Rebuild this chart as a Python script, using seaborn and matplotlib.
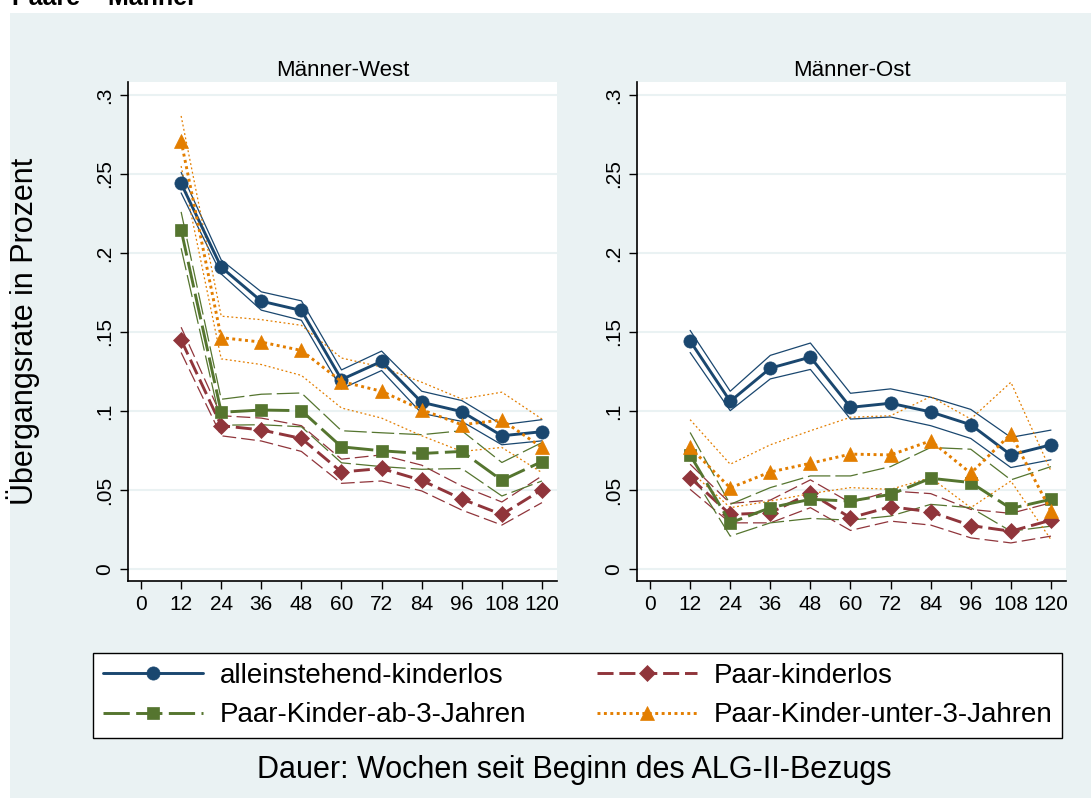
import pandas as pd
import seaborn as sns
import matplotlib.pyplot as plt
from matplotlib.patches import Rectangle

weeks = [12, 24, 36, 48, 60, 72, 84, 96, 108, 120]
groups = ['alleinstehend-kinderlos', 'Paar-kinderlos',
          'Paar-Kinder-ab-3-Jahren', 'Paar-Kinder-unter-3-Jahren']

# Männer-West: estimate, lower and upper bound
west_allein = [0.244, 0.191, 0.1695, 0.1636, 0.1199, 0.1314, 0.1055, 0.0996, 0.0843, 0.0869]
west_allein_lo = [0.238, 0.1867, 0.1638, 0.1574, 0.114, 0.1256, 0.0985, 0.0934, 0.0786, 0.0811]
west_allein_hi = [0.251, 0.1956, 0.1754, 0.1697, 0.126, 0.1379, 0.1125, 0.1066, 0.0913, 0.0945]

west_paar = [0.145, 0.0907, 0.088, 0.0826, 0.0614, 0.0636, 0.0561, 0.0443, 0.0345, 0.0502]
west_paar_lo = [0.137, 0.0843, 0.081, 0.0744, 0.0542, 0.0557, 0.0494, 0.0373, 0.0278, 0.042]
west_paar_hi = [0.153, 0.097, 0.0955, 0.0907, 0.0695, 0.0722, 0.0657, 0.0525, 0.0424, 0.0589]

west_ab3 = [0.2146, 0.0992, 0.1006, 0.1002, 0.0773, 0.0748, 0.0731, 0.0744, 0.0561, 0.068]
west_ab3_lo = [0.203, 0.091, 0.0913, 0.090, 0.0672, 0.0648, 0.0631, 0.0636, 0.0462, 0.0557]
west_ab3_hi = [0.226, 0.1074, 0.1106, 0.1114, 0.0875, 0.0862, 0.085, 0.0875, 0.0674, 0.080]

west_unter3 = [0.2708, 0.1464, 0.1436, 0.1383, 0.1186, 0.1125, 0.1008, 0.0913, 0.0943, 0.0769]
west_unter3_lo = [0.255, 0.133, 0.1294, 0.1225, 0.1019, 0.0955, 0.0843, 0.0744, 0.0769, 0.061]
west_unter3_hi = [0.2867, 0.160, 0.1578, 0.1542, 0.1335, 0.1278, 0.1182, 0.1076, 0.1119, 0.0949]

# Männer-Ost
ost_allein = [0.1443, 0.1061, 0.1271, 0.1341, 0.1023, 0.1049, 0.0994, 0.0913, 0.0722, 0.0786]
ost_allein_lo = [0.137, 0.1002, 0.1203, 0.1263, 0.0949, 0.0962, 0.0907, 0.0826, 0.0642, 0.0691]
ost_allein_hi = [0.151, 0.1125, 0.1352, 0.143, 0.1112, 0.114, 0.1087, 0.101, 0.0833, 0.0879]

ost_paar = [0.0578, 0.0345, 0.0356, 0.0479, 0.0324, 0.0394, 0.0362, 0.0275, 0.0239, 0.0309]
ost_paar_lo = [0.0504, 0.0292, 0.0292, 0.0388, 0.0244, 0.0303, 0.0278, 0.0197, 0.0165, 0.0208]
ost_paar_hi = [0.0663, 0.0415, 0.0436, 0.0564, 0.0419, 0.0494, 0.0477, 0.0377, 0.0352, 0.0419]

ost_ab3 = [0.0722, 0.0292, 0.0388, 0.0441, 0.043, 0.0472, 0.0574, 0.0547, 0.0383, 0.0441]
ost_ab3_lo = [0.062, 0.0208, 0.0292, 0.032, 0.0309, 0.0335, 0.0409, 0.0388, 0.0239, 0.0271]
ost_ab3_hi = [0.0864, 0.0409, 0.0515, 0.0589, 0.0589, 0.0648, 0.0769, 0.0758, 0.0564, 0.0648]

ost_unter3 = [0.0769, 0.0513, 0.0614, 0.0669, 0.0727, 0.0722, 0.0811, 0.0606, 0.0854, 0.0367]
ost_unter3_lo = [0.062, 0.0388, 0.043, 0.0477, 0.0515, 0.0504, 0.0578, 0.0388, 0.0557, 0.0186]
ost_unter3_hi = [0.0945, 0.0663, 0.0786, 0.0875, 0.096, 0.097, 0.1091, 0.0949, 0.1182, 0.062]

yticks = [0, 0.05, 0.1, 0.15, 0.2, 0.25, 0.3]
ytick_labels = ['0', '.05', '.1', '.15', '.2', '.25', '.3']
xticks = [0, 12, 24, 36, 48, 60, 72, 84, 96, 108, 120]

rows = []
for region, series in [
    ('Männer-West', [(west_allein, west_allein_lo, west_allein_hi),
                     (west_paar, west_paar_lo, west_paar_hi),
                     (west_ab3, west_ab3_lo, west_ab3_hi),
                     (west_unter3, west_unter3_lo, west_unter3_hi)]),
    ('Männer-Ost', [(ost_allein, ost_allein_lo, ost_allein_hi),
                    (ost_paar, ost_paar_lo, ost_paar_hi),
                    (ost_ab3, ost_ab3_lo, ost_ab3_hi),
                    (ost_unter3, ost_unter3_lo, ost_unter3_hi)])]:
    for g, (est, lo, hi) in zip(groups, series):
        for w, e, l, h in zip(weeks, est, lo, hi):
            rows.append({'region': region, 'group': g, 'week': w, 'rate': e, 'lo': l, 'hi': h})
df = pd.DataFrame(rows)

styles = {
    'alleinstehend-kinderlos': dict(color='#1A476F', marker='o', ms=9.5, dash=None, cidash=None),
    'Paar-kinderlos': dict(color='#90353B', marker='D', ms=8, dash=(5.5, 2), cidash=(11, 4)),
    'Paar-Kinder-ab-3-Jahren': dict(color='#55752F', marker='s', ms=8.5, dash=(9, 2.2), cidash=(18, 4)),
    'Paar-Kinder-unter-3-Jahren': dict(color='#E37E00', marker='^', ms=9.5, dash=(1, 1.2), cidash=(1.5, 2)),
}

sns.set_theme(style='white')
plt.rcParams['font.family'] = ['Liberation Sans', 'DejaVu Sans']
plt.rcParams['text.color'] = 'black'
plt.rcParams['axes.labelcolor'] = 'black'
plt.rcParams['xtick.color'] = 'black'
plt.rcParams['ytick.color'] = 'black'
bg = '#EAF2F3'

fig = plt.figure(figsize=(10.91, 7.98), dpi=100)
fig.patch.set_facecolor('white')
fig.patches.append(Rectangle((10 / 1091, 0), 1 - 10 / 1091, 785 / 798, transform=fig.transFigure,
                             facecolor=bg, edgecolor='none', zorder=-10))
# the page title is cut off at the top edge in the original as well
fig.text(12 / 1091, 1 - 5 / 798, 'Paare \u2013 Männer', fontsize=18, fontweight='bold', va='baseline')

ax_w = fig.add_axes([128 / 1091, 1 - 581 / 798, 429 / 1091, 499 / 798])
ax_o = fig.add_axes([637 / 1091, 1 - 581 / 798, 429 / 1091, 499 / 798])

for ax, region in [(ax_w, 'Männer-West'), (ax_o, 'Männer-Ost')]:
    ax.set_facecolor('white')
    sub = df[df['region'] == region]
    for g in groups:
        s = styles[g]
        d = sub[sub['group'] == g]
        ls = '-' if s['dash'] is None else (0, s['dash'])
        cls = '-' if s['cidash'] is None else (0, s['cidash'])
        for col in ['lo', 'hi']:
            sns.lineplot(data=d, x='week', y=col, ax=ax, color=s['color'], lw=0.9,
                         linestyle=cls, errorbar=None, zorder=2)
        sns.lineplot(data=d, x='week', y='rate', ax=ax, color=s['color'], lw=2.1,
                     linestyle=ls, marker=s['marker'], markersize=s['ms'],
                     markeredgecolor=s['color'], markeredgewidth=0.5,
                     errorbar=None, label=g, zorder=3)
    ax.set_xlim(-3.9, 124.5)
    ax.set_ylim(-0.0076, 0.3082)
    ax.set_xticks(xticks)
    ax.set_xticklabels([str(x) for x in xticks], fontsize=15)
    ax.set_yticks(yticks)
    ax.set_yticklabels(ytick_labels, fontsize=15, rotation=90, va='center')
    ax.grid(axis='y', color=bg, lw=1.5)
    ax.grid(axis='x', visible=False)
    ax.set_axisbelow(True)
    for sp in ['top', 'right']:
        ax.spines[sp].set_visible(False)
    for sp in ['left', 'bottom']:
        ax.spines[sp].set_color('black')
        ax.spines[sp].set_linewidth(1.2)
    ax.tick_params(axis='both', direction='out', length=6, width=1, color='black',
                   left=True, bottom=True, pad=4)
    ax.set_title(region, fontsize=16, pad=4)
    ax.set_xlabel('')
    ax.set_ylabel('')

ax_w.set_ylabel('Übergangsrate in Prozent', fontsize=22)
ax_w.yaxis.set_label_coords(-0.205, 0.5)

handles, labels = ax_w.get_legend_handles_labels()
for ax in (ax_w, ax_o):
    if ax.get_legend() is not None:
        ax.get_legend().remove()
order = [0, 2, 1, 3]
leg = fig.legend([handles[i] for i in order], [labels[i] for i in order],
                 loc='center', ncol=2, mode='expand',
                 bbox_to_anchor=(93 / 1091, 1 - 740 / 798, 969 / 1091, 89 / 798),
                 fontsize=20, handlelength=3.6, handletextpad=0.6, columnspacing=2,
                 frameon=True, fancybox=False, borderaxespad=0, labelspacing=0.5,
                 borderpad=0.35)
leg.get_frame().set_edgecolor('black')
leg.get_frame().set_linewidth(1)
leg.get_frame().set_facecolor('white')
leg.get_frame().set_alpha(1)

fig.text(574 / 1091, 1 - 770 / 798, 'Dauer: Wochen seit Beginn des ALG-II-Bezugs',
         fontsize=22, ha='center', va='center')

fig.savefig('out.png', dpi=100, facecolor=fig.get_facecolor())
